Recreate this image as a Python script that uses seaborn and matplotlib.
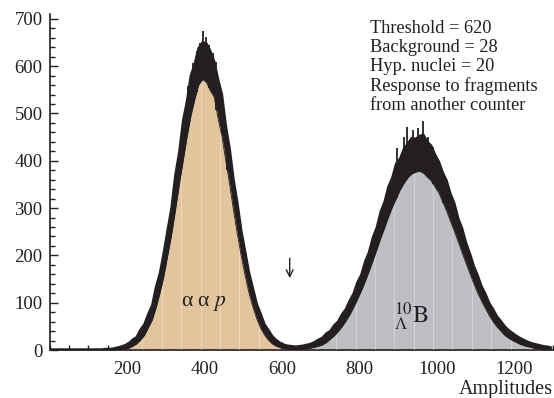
import numpy as np
import pandas as pd
import matplotlib
matplotlib.use("Agg")
import matplotlib.pyplot as plt
from matplotlib.ticker import MultipleLocator
import seaborn as sns

# Amplitude spectrum, 10-channel bins from 0 to 1300
bin_width = 10
amp_range = (0, 1300)

# upper edge of the statistical-noise band in each bin
line_top = [
    1, 1, 1, 1, 1, 1, 1, 1, 1, 1, 1, 1, 1, 1,
    2, 2, 3, 5, 7, 10, 14, 22, 27, 43,
    54, 76, 94, 133, 162, 205, 254, 300, 370, 418,
    485, 526, 580, 605, 638, 650, 648, 632, 610, 572,
    540, 474, 425, 360, 310, 252, 208, 163, 130, 97,
    76, 54, 42, 29, 21, 15, 11, 9, 8, 7,
    8, 9, 11, 13, 17, 22, 26, 35, 40, 52,
    60, 75, 86, 104, 119, 143, 159, 187, 207, 238,
    259, 292, 313, 345, 364, 394, 404, 425, 436, 448,
    446, 452, 455, 440, 432, 413, 398, 375, 358, 330,
    310, 278, 257, 227, 204, 178, 158, 135, 119, 99,
    86, 71, 61, 50, 42, 36, 30, 25, 21, 17,
    14, 12, 10, 8, 7, 5,
]

# lower edge of the noise band = top of the coloured area
fill_top = [
    0, 0, 0, 0, 0, 0, 0, 0, 0, 0, 0, 0, 0, 0,
    0, 0, 0, 0, 1, 2, 4, 8, 13, 21,
    31, 47, 63, 89, 120, 155, 199, 243, 295, 350,
    400, 450, 495, 530, 560, 572, 566, 548, 535, 490,
    452, 400, 350, 295, 245, 198, 157, 120, 91, 66,
    46, 32, 21, 13, 8, 5, 3, 2, 1, 1,
    1, 2, 3, 4, 6, 8, 11, 16, 23, 30,
    39, 49, 61, 74, 90, 107, 125, 145, 166, 189,
    212, 236, 258, 281, 302, 320, 338, 352, 364, 372,
    376, 378, 374, 366, 358, 345, 332, 313, 294, 272,
    251, 229, 206, 184, 162, 141, 121, 104, 88, 73,
    60, 49, 40, 31, 25, 20, 16, 12, 9, 7,
    5, 3, 2, 1, 1, 0,
]

# isolated high channels sticking out of the band near the two maxima
spike_x = [358, 371, 380, 388, 395, 404, 412, 421, 431, 444, 459,
           896, 915, 923, 939, 952, 965, 978, 990, 1016]
spike_top = [557, 607, 631, 648, 675, 662, 645, 628, 609, 493, 430,
             426, 451, 472, 465, 469, 483, 451, 430, 349]

# which event class each bin belongs to (split at the crossing near 640)
source = ["aap"] * 64 + ["B10"] * 66

x_tick_labels = [200, 400, 600, 800, 1000, 1200]
threshold = 620

info_lines = [
    "Threshold = 620",
    "Background = 28",
    "Hyp. nuclei = 20",
    "Response to fragments",
    "from another counter",
]

tan = "#E2C59C"
grey = "#BEBFC3"
ink = "#231F20"

sns.set_theme(style="ticks")
plt.rcParams["font.family"] = ["Liberation Serif", "DejaVu Serif"]
plt.rcParams["mathtext.fontset"] = "stix"

edges = np.arange(amp_range[0], amp_range[1] + bin_width, bin_width)
centers = edges[:-1] + bin_width / 2
df = pd.DataFrame({"amplitude": centers, "count": fill_top, "source": source})

fig = plt.figure(figsize=(5.54, 3.98), dpi=100)
ax = fig.add_axes([0.0894, 0.1206, 0.909, 0.844])

sns.histplot(
    data=df, x="amplitude", weights="count", hue="source",
    binwidth=bin_width, binrange=amp_range,
    element="poly", fill=True, alpha=1, linewidth=0,
    palette={"aap": tan, "B10": grey}, legend=False, ax=ax,
)

# faint light stripes inside the coloured area
fill_arr = np.asarray(fill_top, dtype=float)
line_arr = np.asarray(line_top, dtype=float)
stripe_x = np.arange(40, amp_range[1], 50)
stripe_h = np.interp(stripe_x, centers, fill_arr)
ax.vlines(stripe_x, 0, stripe_h, colors="white", alpha=0.3, lw=0.8, zorder=3)

# black noise band, its jagged outline and the single-channel spikes
ax.fill_between(centers, fill_arr, line_arr, color=ink, lw=0, zorder=4)
ax.plot(centers, line_arr, color=ink, lw=1.8, zorder=5)
ax.plot(centers, fill_arr, color=ink, lw=0.6, zorder=5)
ax.plot([0, centers[0]], [line_arr[0], line_arr[0]], color=ink, lw=1.8, zorder=5)
ax.vlines(spike_x, np.interp(spike_x, centers, fill_arr), spike_top,
          colors=ink, lw=1.3, zorder=5)

ax.set_xlim(*amp_range)
ax.set_ylim(0, 710)
ax.set_xticks(x_tick_labels)
ax.xaxis.set_minor_locator(MultipleLocator(50))
ax.yaxis.set_major_locator(MultipleLocator(100))
ax.yaxis.set_minor_locator(MultipleLocator(20))
ax.tick_params(which="both", direction="in", color=ink, width=1.0,
               labelsize=13.5, labelcolor=ink)
ax.tick_params(which="major", length=6)
ax.tick_params(which="minor", length=3.5)
ax.tick_params(axis="y", pad=5)
ax.tick_params(axis="x", pad=8)
ax.set_xlabel("")
ax.set_ylabel("")
for side in ("top", "right"):
    ax.spines[side].set_visible(False)
for side in ("left", "bottom"):
    ax.spines[side].set_color(ink)
    ax.spines[side].set_linewidth(1.2)

ax.text(827, 698, "\n".join(info_lines), ha="left", va="top",
        fontsize=13.2, color=ink, linespacing=1.15)
ax.text(397, 93, r"α α $p$", ha="center", va="baseline", fontsize=15.5, color=ink)
ax.text(889, 56, r"${}^{10}_{\Lambda}\mathrm{B}$", ha="left", va="baseline",
        fontsize=17.5, color=ink)
ax.annotate("", xy=(threshold, 152), xytext=(threshold, 194),
            arrowprops=dict(arrowstyle="->", lw=1.0, color=ink,
                            shrinkA=0, shrinkB=0))
ax.text(1.0, -0.132, "Amplitudes", transform=ax.transAxes, ha="right",
        va="baseline", fontsize=14.5, color=ink)

fig.savefig("out.png", dpi=100)
